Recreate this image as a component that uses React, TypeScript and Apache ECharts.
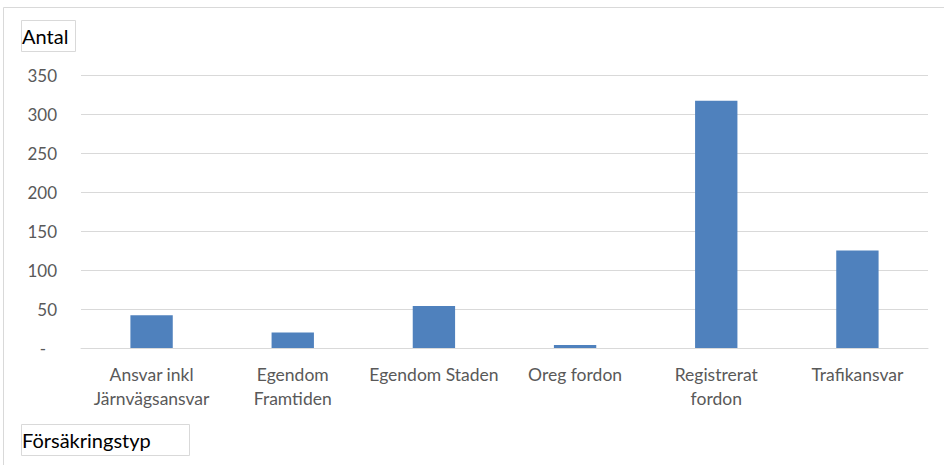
import React, { useEffect, useRef } from "react";
import * as echarts from "echarts";

const categories = [
  "Ansvar inkl\nJärnvägsansvar",
  "Egendom\nFramtiden",
  "Egendom Staden",
  "Oreg fordon",
  "Registrerat\nfordon",
  "Trafikansvar",
];
const values = [42, 20, 54, 4, 317, 125];
const yTitle = "Antal";
const xTitle = "Försäkringstyp";

const FONT = "Lato, 'Open Sans', sans-serif";

export default function App() {
  const ref = useRef<HTMLDivElement>(null);
  useEffect(() => {
    if (!ref.current) return;
    const chart = echarts.init(ref.current, undefined, { renderer: "svg" });
    chart.setOption({
      animation: false,
      backgroundColor: "#ffffff",
      grid: { left: 81, right: 16, top: 75, bottom: 117, containLabel: false },
      xAxis: {
        type: "category",
        data: categories,
        axisLine: { show: true, lineStyle: { color: "#d9d9d9", width: 1 } },
        axisTick: { show: false },
        axisLabel: {
          color: "#595959",
          fontFamily: FONT,
          fontSize: 17.5,
          lineHeight: 24,
          margin: 14,
          interval: 0,
        },
      },
      yAxis: {
        type: "value",
        min: 0,
        max: 350,
        interval: 50,
        axisLine: { show: false },
        axisTick: { show: false },
        splitLine: { lineStyle: { color: "#d9d9d9", width: 1 } },
        axisLabel: {
          color: "#595959",
          fontFamily: FONT,
          fontSize: 17,
          margin: 24,
          formatter: (v: number) => (v === 0 ? "{d|-}" : String(v)),
          rich: {
            d: {
              color: "#595959",
              fontFamily: FONT,
              fontSize: 17,
              padding: [0, 11, 0, 0],
            },
          },
        },
      },
      series: [
        {
          type: "bar",
          data: values,
          barWidth: "30%",
          itemStyle: { color: "#4f81bd" },
        },
      ],
      graphic: [
        {
          type: "rect",
          shape: { x: 3.5, y: 7.5, width: 950, height: 470 },
          style: { fill: "none", stroke: "#d9d9d9", lineWidth: 1 },
          silent: true,
        },
        {
          type: "rect",
          shape: { x: 21.5, y: 20.5, width: 54, height: 31 },
          style: { fill: "#ffffff", stroke: "#d9d9d9", lineWidth: 1 },
        },
        {
          type: "text",
          x: 22,
          y: 36,
          style: {
            text: yTitle,
            fill: "#000000",
            font: `20px ${FONT}`,
            verticalAlign: "middle",
          },
        },
        {
          type: "rect",
          shape: { x: 21.5, y: 424.5, width: 168, height: 31 },
          style: { fill: "#ffffff", stroke: "#d9d9d9", lineWidth: 1 },
        },
        {
          type: "text",
          x: 22,
          y: 440,
          style: {
            text: xTitle,
            fill: "#000000",
            font: `20px ${FONT}`,
            verticalAlign: "middle",
          },
        },
      ],
    });
    return () => chart.dispose();
  }, []);
  return (
    <div
      ref={ref}
      style={{ position: "absolute", left: 0, top: 0, width: 944, height: 465 }}
    />
  );
}
